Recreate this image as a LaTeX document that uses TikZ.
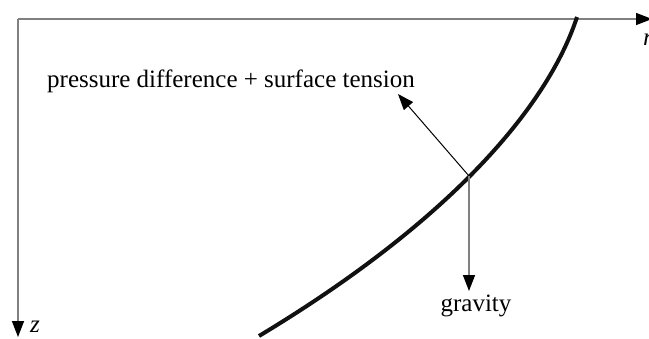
\documentclass[tikz,border=0pt]{standalone}
\usepackage{fontspec}
\setmainfont{Liberation Serif}
\usepackage{tikz}
\usetikzlibrary{arrows.meta}
\definecolor{axisGray}{HTML}{808080}
\definecolor{curveBlack}{HTML}{111111}

\tikzset{
  axisline/.style={draw=axisGray, line width=0.75pt, -{Triangle[length=8pt, width=6pt, color=black]}},
  forceline/.style={line width=0.5pt, -{Triangle[length=8pt, width=6pt]}},
  label/.style={font=\fontsize{12.5}{15}\selectfont, inner sep=0pt}
}

\begin{document}
\begin{tikzpicture}[x=0.5pt, y=-0.5pt]
        \useasboundingbox (0,0) rectangle (649,338);
        % ── axes ──
        \coordinate (O) at (18,19);
        \coordinate (rend) at (652,19);
        \coordinate (zend) at (18,337);
        \draw[axisline] (O) -- (rend);
        \draw[axisline] (O) -- (zend);
        \node[label, font=\fontsize{12.5}{15}\selectfont\itshape] (rlab) at (648,40) {r};
        \node[label, font=\fontsize{12.5}{15}\selectfont\itshape] (zlab) at (35,327) {z};
        % ── free surface ──
        \draw[curveBlack, line width=2pt] (577,17) .. controls (550,100) and (460,215) .. (259,336);
        % ── forces at the surface point ──
        \coordinate (P) at (469,176);
        \coordinate (ptip) at (398,94);
        \coordinate (gtip) at (469,291);
        \draw[forceline] (P) -- (ptip);
        \draw[axisline] (P) -- (gtip);
        \node[label, anchor=base] (pressure) at (231,87) {pressure difference + surface tension};
        \node[label, anchor=base] (gravity) at (476,311) {gravity};
      \end{tikzpicture}
\end{document}
